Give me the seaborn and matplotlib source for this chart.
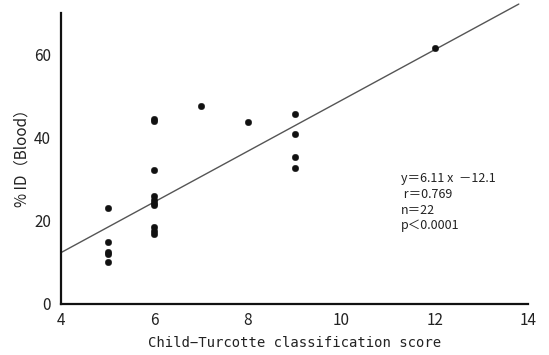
import matplotlib
matplotlib.use("Agg")
import matplotlib.pyplot as plt
import seaborn as sns
import numpy as np
import pandas as pd

# Data
score = [5, 5, 5, 5, 5,
         6, 6, 6, 6, 6, 6, 6, 6, 6, 6,
         7, 8,
         9, 9, 9, 9,
         12]
pct_id = [23.2, 15.0, 12.6, 12.0, 10.1,
          44.5, 44.1, 32.3, 25.9, 25.1, 24.4, 23.9, 18.4, 17.5, 16.8,
          47.7, 43.8,
          45.8, 40.9, 35.3, 32.7,
          61.7]
slope = 6.11
intercept = -12.1
line_x = [4.0, 13.8]
x_ticks = [4, 6, 8, 10, 12, 14]
y_ticks = [0, 20, 40, 60]
stats_lines = ["y＝6.11 x  －12.1", " r＝0.769", "n＝22", "p＜0.0001"]

sns.set_theme(style="white")
plt.rcParams['font.family'] = ['Noto Sans CJK JP', 'DejaVu Sans']

df = pd.DataFrame({"score": score, "pct": pct_id})
line_df = pd.DataFrame({"x": line_x, "y": [slope * v + intercept for v in line_x]})

fig = plt.figure(figsize=(5.49, 3.55), dpi=100)
ax = fig.add_axes([0.111, 0.144, 0.851, 0.842])

sns.lineplot(data=line_df, x="x", y="y", ax=ax, color="#555555", linewidth=1.0,
             clip_on=False)
sns.scatterplot(data=df, x="score", y="pct", ax=ax, color="#111111", s=22,
                edgecolor="#111111", linewidth=0.3, zorder=3)

ax.set_xlim(4, 14)
ax.set_ylim(0, 72)
ax.set_xticks(x_ticks)
ax.set_yticks(y_ticks)
ax.spines['top'].set_visible(False)
ax.spines['right'].set_visible(False)
ax.spines['left'].set_bounds(0, 70)
for s in ['left', 'bottom']:
    ax.spines[s].set_color("#111111")
    ax.spines[s].set_linewidth(1.6)
ax.tick_params(axis='both', direction='out', length=4, width=1, color="#111111",
               labelsize=11, labelcolor="#222222")
ax.tick_params(axis='y', pad=3)
ax.tick_params(axis='x', pad=2)

ax.set_xlabel("Child−Turcotte classification score", family="DejaVu Sans Mono",
              fontsize=10, color="#222222", labelpad=5)
ax.set_ylabel("% ID（Blood）", fontsize=11, color="#222222", labelpad=3)

ax.text(0.728, 0.44, "\n".join(stats_lines), transform=ax.transAxes,
        fontsize=9, color="#222222", va="top", ha="left", linespacing=1.27)

fig.savefig("out.png", dpi=100)
